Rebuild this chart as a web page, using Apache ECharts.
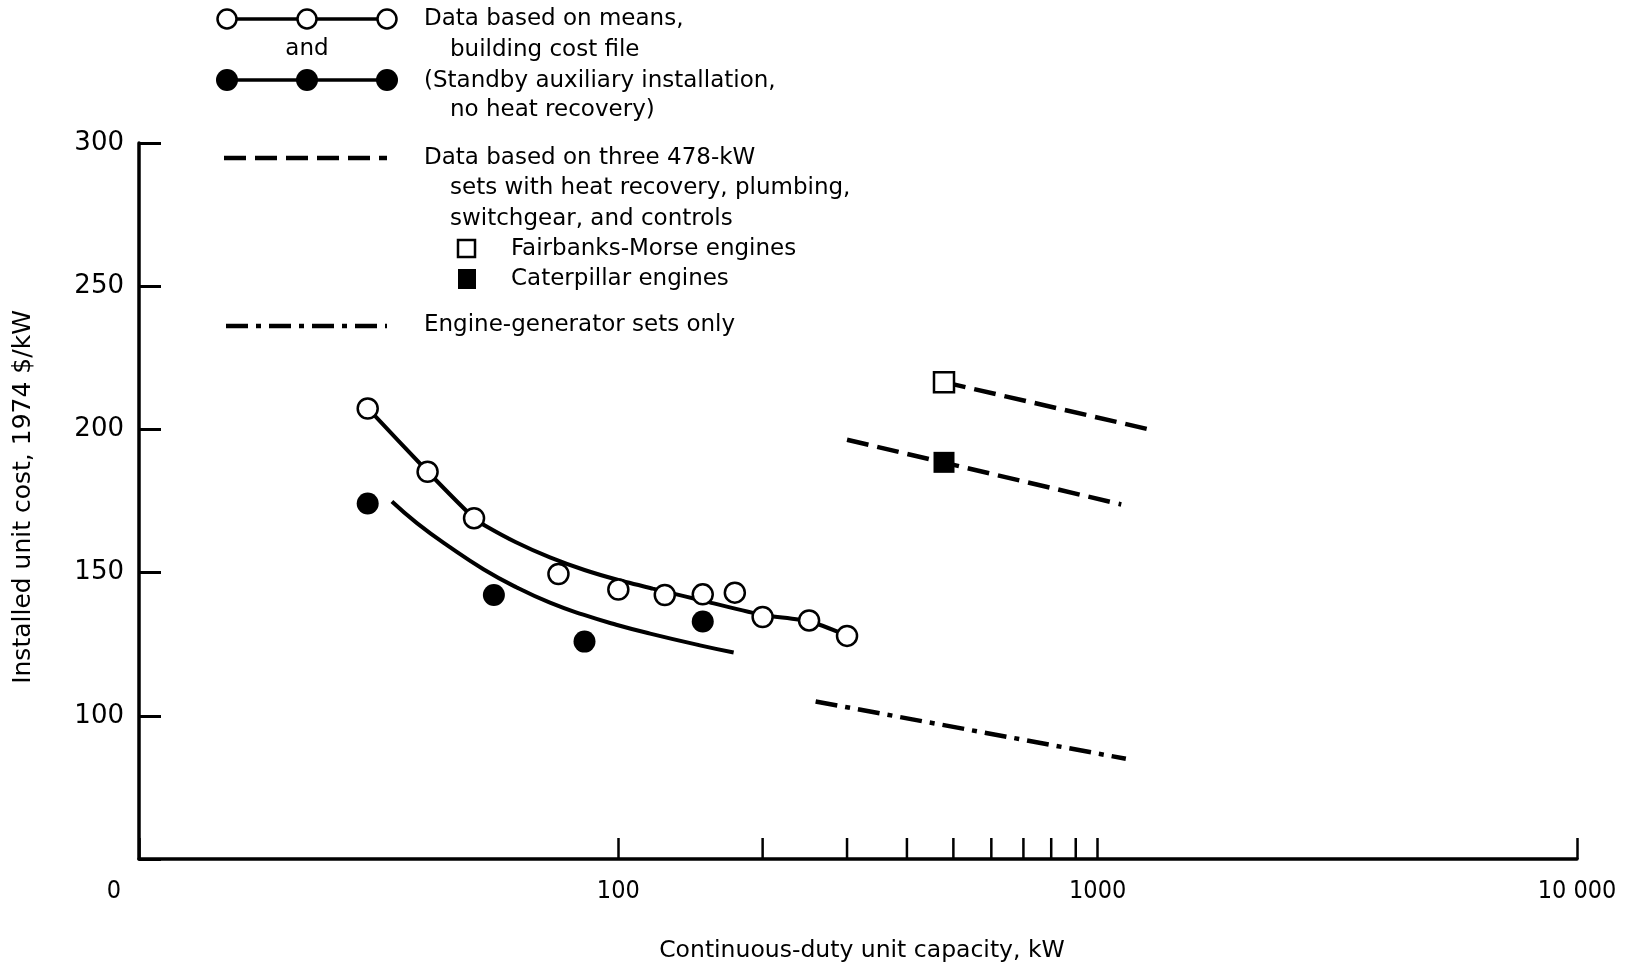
<!DOCTYPE html>
<html>
<head>
<meta charset="utf-8">
<style>html,body{margin:0;padding:0;background:#fff;}#c{width:1632px;height:969px;}</style>
<script src="https://cdn.jsdelivr.net/npm/echarts@6/dist/echarts.min.js"></script>
</head>
<body>
<div id="c"></div>
<script>
// ---- data ----
const openX = [30, 40, 50, 75, 100, 125, 150, 175, 200, 250, 300];
const openY = [207.3, 185.2, 169.0, 149.5, 144.1, 142.2, 142.4, 143.0, 134.5, 133.3, 127.9];
const filledX = [30, 55, 85, 150];
const filledY = [174.1, 142.2, 125.9, 132.9];
const upperFitX = [30, 40, 50, 53, 61, 72, 85, 100, 118, 137, 155, 200, 250, 300];
const upperFitY = [207.4, 185.3, 169.0, 166.2, 160.7, 155.3, 150.9, 147.4, 144.4, 141.8, 139.6, 135.2, 133.0, 128.0];
const lowerFitX = [33.7, 38, 44.6, 52.3, 61.4, 72, 84.5, 99, 116.5, 148, 174];
const lowerFitY = [174.8, 167.3, 158.8, 151.2, 144.8, 139.5, 135.3, 131.8, 128.7, 124.6, 122.1];
const fmLineX = [478, 1280];
const fmLineY = [216.5, 200.0];
const catLineX = [300, 1120];
const catLineY = [196.4, 173.8];
const egLineX = [258, 1145];
const egLineY = [105.0, 85.0];
const fmPointX = [478];
const fmPointY = [216.5];
const catPointX = [478];
const catPointY = [188.5];
const minorTickValues = [200, 300, 400, 500, 600, 700, 800, 900];
const xTickLabels = {10: '0', 100: '100', 1000: '1000', 10000: '10 000'};
const yTickValues = [100, 150, 200, 250, 300];

const zip = (xs, ys) => xs.map((x, i) => [x, ys[i]]);

const FONT = 'DejaVu Sans';
const chart = echarts.init(document.getElementById('c'), null, {renderer: 'canvas'});

const legendTextStyle = (x, y, text, align) => ({
  type: 'text', x: x, y: y,
  style: {text: text, font: '23px "DejaVu Sans"', fill: '#000', textAlign: align || 'left', textVerticalAlign: 'middle'}
});

const legendGraphics = [
  // open circle line
  {type: 'line', shape: {x1: 227, y1: 19, x2: 387, y2: 19}, style: {stroke: '#000', lineWidth: 3.5}},
  ...[227, 307, 387].map(x => ({type: 'circle', shape: {cx: x, cy: 19, r: 9.5}, style: {fill: '#fff', stroke: '#000', lineWidth: 2.5}})),
  legendTextStyle(307, 49, 'and', 'center'),
  // filled circle line
  {type: 'line', shape: {x1: 227, y1: 80, x2: 387, y2: 80}, style: {stroke: '#000', lineWidth: 3.5}},
  ...[227, 307, 387].map(x => ({type: 'circle', shape: {cx: x, cy: 80, r: 11}, style: {fill: '#000'}})),
  // dashed
  {type: 'line', shape: {x1: 224, y1: 158, x2: 387, y2: 158}, style: {stroke: '#000', lineWidth: 4.5, lineDash: [22, 9]}},
  // dash-dot
  {type: 'line', shape: {x1: 226, y1: 326, x2: 387, y2: 326}, style: {stroke: '#000', lineWidth: 4.5, lineDash: [22, 8, 5, 8]}},
  // squares
  {type: 'rect', shape: {x: 458, y: 240, width: 17, height: 17}, style: {fill: '#fff', stroke: '#000', lineWidth: 2.5}},
  {type: 'rect', shape: {x: 458, y: 269, width: 18, height: 20}, style: {fill: '#000'}},
  legendTextStyle(424, 19, 'Data based on means,'),
  legendTextStyle(450, 50, 'building cost file'),
  legendTextStyle(424, 81, '(Standby auxiliary installation,'),
  legendTextStyle(450, 110, 'no heat recovery)'),
  legendTextStyle(424, 158, 'Data based on three 478-kW'),
  legendTextStyle(450, 188, 'sets with heat recovery, plumbing,'),
  legendTextStyle(450, 219, 'switchgear, and controls'),
  legendTextStyle(511, 249, 'Fairbanks-Morse engines'),
  legendTextStyle(511, 279, 'Caterpillar engines'),
  legendTextStyle(424, 325, 'Engine-generator sets only'),
  // axis titles
  {type: 'text', x: 862, y: 951, style: {text: 'Continuous-duty unit capacity, kW', font: '23.5px "DejaVu Sans"', fill: '#000', textAlign: 'center', textVerticalAlign: 'middle'}},
  {type: 'text', x: 23, y: 497, rotation: Math.PI / 2, style: {text: 'Installed unit cost, 1974 $/kW', font: '25px "DejaVu Sans"', fill: '#000', textAlign: 'center', textVerticalAlign: 'middle'}}
];

const option = {
  backgroundColor: '#fff',
  animation: false,
  grid: {left: 139, right: 55, top: 143, bottom: 110},
  xAxis: {
    type: 'log', logBase: 10, min: 10, max: 10000,
    axisLine: {show: true, onZero: false, lineStyle: {color: '#000', width: 3.5}},
    axisTick: {show: true, inside: true, length: 21, lineStyle: {color: '#000', width: 2.5}},
    axisLabel: {
      margin: 20, color: '#000', fontFamily: 'DejaVu Sans Condensed', fontSize: 25,
      formatter: v => {
        const k = Math.round(v);
        if (k === 10) return '{z|0}';
        return xTickLabels[k] !== undefined ? xTickLabels[k] : '';
      },
      rich: {z: {fontFamily: 'DejaVu Sans Condensed', fontSize: 25, color: '#000', padding: [0, 50, 0, 0]}}
    },
    splitLine: {show: false},
    minorTick: {show: false}
  },
  yAxis: {
    type: 'value', min: 50, max: 300, interval: 50,
    axisLine: {show: true, lineStyle: {color: '#000', width: 3.5}},
    axisTick: {show: true, inside: true, length: 22, lineStyle: {color: '#000', width: 3}},
    axisLabel: {
      margin: 15, color: '#000', fontFamily: FONT, fontSize: 26,
      formatter: v => (yTickValues.indexOf(v) >= 0 ? String(v) : '')
    },
    splitLine: {show: false}
  },
  graphic: legendGraphics,
  series: [
    {type: 'custom', silent: true, z: 3,
      data: minorTickValues.map(v => [v, 50]),
      renderItem: (params, api) => {
        const p = api.coord([api.value(0), api.value(1)]);
        return {type: 'line', shape: {x1: p[0], y1: p[1], x2: p[0], y2: p[1] - 21}, style: {stroke: '#000', lineWidth: 2.5}};
      }
    },
    {type: 'line', data: zip(upperFitX, upperFitY), smooth: 0.2, showSymbol: false, lineStyle: {color: '#000', width: 4}, z: 2},
    {type: 'line', data: zip(lowerFitX, lowerFitY), smooth: 0.5, showSymbol: false, lineStyle: {color: '#000', width: 4}, z: 2},
    {type: 'line', data: zip(fmLineX, fmLineY), showSymbol: false, lineStyle: {color: '#000', width: 4.5, type: [22, 9]}, z: 2},
    {type: 'line', data: zip(catLineX, catLineY), showSymbol: false, lineStyle: {color: '#000', width: 4.5, type: [22, 9]}, z: 2},
    {type: 'line', data: zip(egLineX, egLineY), showSymbol: false, lineStyle: {color: '#000', width: 4.5, type: [22, 8, 5, 8]}, z: 2},
    {type: 'scatter', data: zip(openX, openY), symbol: 'circle', symbolSize: 20, itemStyle: {color: '#fff', borderColor: '#000', borderWidth: 2.5, opacity: 1}, z: 5},
    {type: 'scatter', data: zip(filledX, filledY), symbol: 'circle', symbolSize: 22, itemStyle: {color: '#000', opacity: 1}, z: 5},
    {type: 'scatter', data: zip(fmPointX, fmPointY), symbol: 'rect', symbolSize: 20, itemStyle: {color: '#fff', borderColor: '#000', borderWidth: 2.5, opacity: 1}, z: 5},
    {type: 'scatter', data: zip(catPointX, catPointY), symbol: 'rect', symbolSize: 21, itemStyle: {color: '#000', opacity: 1}, z: 5}
  ]
};
chart.setOption(option);
</script>
</body>
</html>
